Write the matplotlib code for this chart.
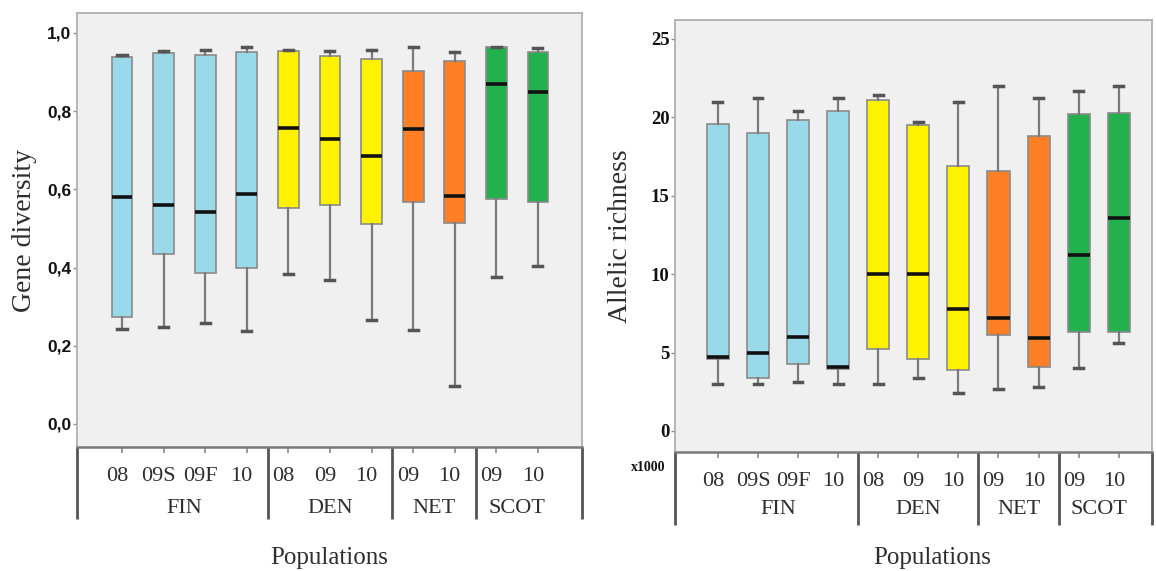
import matplotlib
matplotlib.use("Agg")
import matplotlib.pyplot as plt

# categories
groups = ["FIN", "DEN", "NET", "SCOT"]
group_sizes = [4, 3, 2, 2]
samples = ["08", "09S", "09F", "10", "08", "09", "10", "09", "10", "09", "10"]
group_colors = ["#99d9ea", "#fff200", "#ff7f27", "#22b14c"]

# gene diversity (left panel)
gd_whislo = [0.243, 0.248, 0.258, 0.238, 0.384, 0.368, 0.266, 0.240, 0.096, 0.375, 0.403]
gd_q1 = [0.274, 0.435, 0.386, 0.400, 0.552, 0.560, 0.511, 0.567, 0.515, 0.575, 0.568]
gd_med = [0.581, 0.561, 0.543, 0.588, 0.757, 0.730, 0.686, 0.755, 0.583, 0.870, 0.848]
gd_q3 = [0.939, 0.948, 0.944, 0.950, 0.953, 0.942, 0.933, 0.903, 0.927, 0.963, 0.950]
gd_whishi = [0.944, 0.954, 0.957, 0.965, 0.957, 0.955, 0.957, 0.965, 0.952, 0.965, 0.961]
gd_ticks = [0.0, 0.2, 0.4, 0.6, 0.8, 1.0]
gd_ticklabels = ["0,0", "0,2", "0,4", "0,6", "0,8", "1,0"]

# allelic richness (right panel)
ar_whislo = [3.0, 3.0, 3.1, 3.0, 3.0, 3.4, 2.4, 2.7, 2.8, 4.0, 5.6]
ar_q1 = [4.6, 3.4, 4.3, 3.95, 5.2, 4.6, 3.9, 6.1, 4.1, 6.3, 6.3]
ar_med = [4.7, 5.0, 6.0, 4.05, 10.0, 10.0, 7.8, 7.2, 5.9, 11.2, 13.6]
ar_q3 = [19.6, 19.0, 19.8, 20.4, 21.1, 19.5, 16.9, 16.6, 18.8, 20.2, 20.3]
ar_whishi = [21.0, 21.2, 20.4, 21.2, 21.4, 19.7, 21.0, 22.0, 21.2, 21.7, 22.0]
ar_ticks = [0, 5, 10, 15, 20, 25]

serif = "Liberation Serif"
txt_col = "#2e2e2e"

colors = []
for c, n in zip(group_colors, group_sizes):
    colors += [c] * n
pos = list(range(1, len(samples) + 1))


def draw_panel(ax, whislo, q1, med, q3, whishi, width, xlim, ylim,
               label_y, group_y, line_y):
    stats = []
    for i in range(len(samples)):
        stats.append({"whislo": whislo[i], "q1": q1[i], "med": med[i],
                      "q3": q3[i], "whishi": whishi[i], "fliers": []})
    bp = ax.bxp(stats, positions=pos, widths=width, patch_artist=True,
                showfliers=False, capwidths=0.22,
                boxprops=dict(edgecolor="#8a8a8a", linewidth=1.2),
                medianprops=dict(color="#111111", linewidth=2.6),
                whiskerprops=dict(color="#7a7a7a", linewidth=1.6),
                capprops=dict(color="#555555", linewidth=2.5))
    for patch, c in zip(bp["boxes"], colors):
        patch.set_facecolor(c)

    ax.set_facecolor("#f0f0f0")
    ax.set_xlim(*xlim)
    ax.set_ylim(*ylim)
    for s in ["top", "right", "left"]:
        ax.spines[s].set_color("#b0b0b0")
        ax.spines[s].set_linewidth(1.3)
    ax.spines["bottom"].set_color("#7a7a7a")
    ax.spines["bottom"].set_linewidth(1.8)

    ax.set_xticks(pos)
    ax.set_xticklabels([])
    ax.tick_params(axis="x", length=4, width=1.2, color="#8a8a8a", direction="out")
    ax.tick_params(axis="y", length=3, width=1, color="#8a8a8a", pad=1)

    tr = ax.get_xaxis_transform()
    for p, s in zip(pos, samples):
        ax.text(p - 0.12, label_y, s, transform=tr, ha="center", va="center",
                family=serif, fontsize=16, color=txt_col)

    # group separators and names
    edges = [xlim[0]]
    start = 0.5
    for n in group_sizes:
        start += n
        edges.append(start)
    edges[-1] = xlim[1]
    for e in edges:
        ax.plot([e, e], [0, line_y], transform=tr, color="#555555",
                linewidth=2, clip_on=False, solid_capstyle="butt")
    k = 0
    for g, n in zip(groups, group_sizes):
        centre = (pos[k] + pos[k + n - 1]) / 2
        ax.text(centre, group_y, g, transform=tr, ha="center", va="center",
                family=serif, fontsize=16, color=txt_col)
        k += n


fig = plt.figure(figsize=(11.56, 5.71), dpi=100)
W, H = 1156, 571

ax1 = fig.add_axes([77 / W, (H - 447) / H, (582 - 77) / W, (447 - 13) / H])
draw_panel(ax1, gd_whislo, gd_q1, gd_med, gd_q3, gd_whishi, 0.5,
           (-0.08, 12.06), (-0.059, 1.051), -0.069, -0.141, -0.165)
ax1.set_yticks(gd_ticks)
ax1.set_yticklabels(gd_ticklabels, family="Liberation Sans", fontweight="bold",
                    fontsize=12.5, color="#111111")
ax1.set_ylabel("Gene diversity", family=serif, fontsize=20, color=txt_col, labelpad=7)
ax1.text(0.5, -0.255, "Populations", transform=ax1.transAxes, ha="center",
         va="center", family=serif, fontsize=18, color=txt_col)

ax2 = fig.add_axes([675 / W, (H - 452) / H, (1152 - 675) / W, (452 - 20) / H])
draw_panel(ax2, ar_whislo, ar_q1, ar_med, ar_q3, ar_whishi, 0.55,
           (-0.07, 11.83), (-1.34, 26.2), -0.069, -0.134, -0.169)
ax2.set_yticks(ar_ticks)
ax2.set_yticklabels([str(t) for t in ar_ticks], family=serif, fontweight="bold",
                    fontsize=13.5, color="#111111")
ax2.set_ylabel("Allelic richness", family=serif, fontsize=20, color=txt_col, labelpad=13)
ax2.text(-0.02, -0.02, "x1000", transform=ax2.transAxes, ha="right", va="top",
         family=serif, fontweight="bold", fontsize=10, color="#111111")
ax2.text(0.54, -0.245, "Populations", transform=ax2.transAxes, ha="center",
         va="center", family=serif, fontsize=18, color=txt_col)

fig.savefig("out.png", dpi=100, facecolor="white")
